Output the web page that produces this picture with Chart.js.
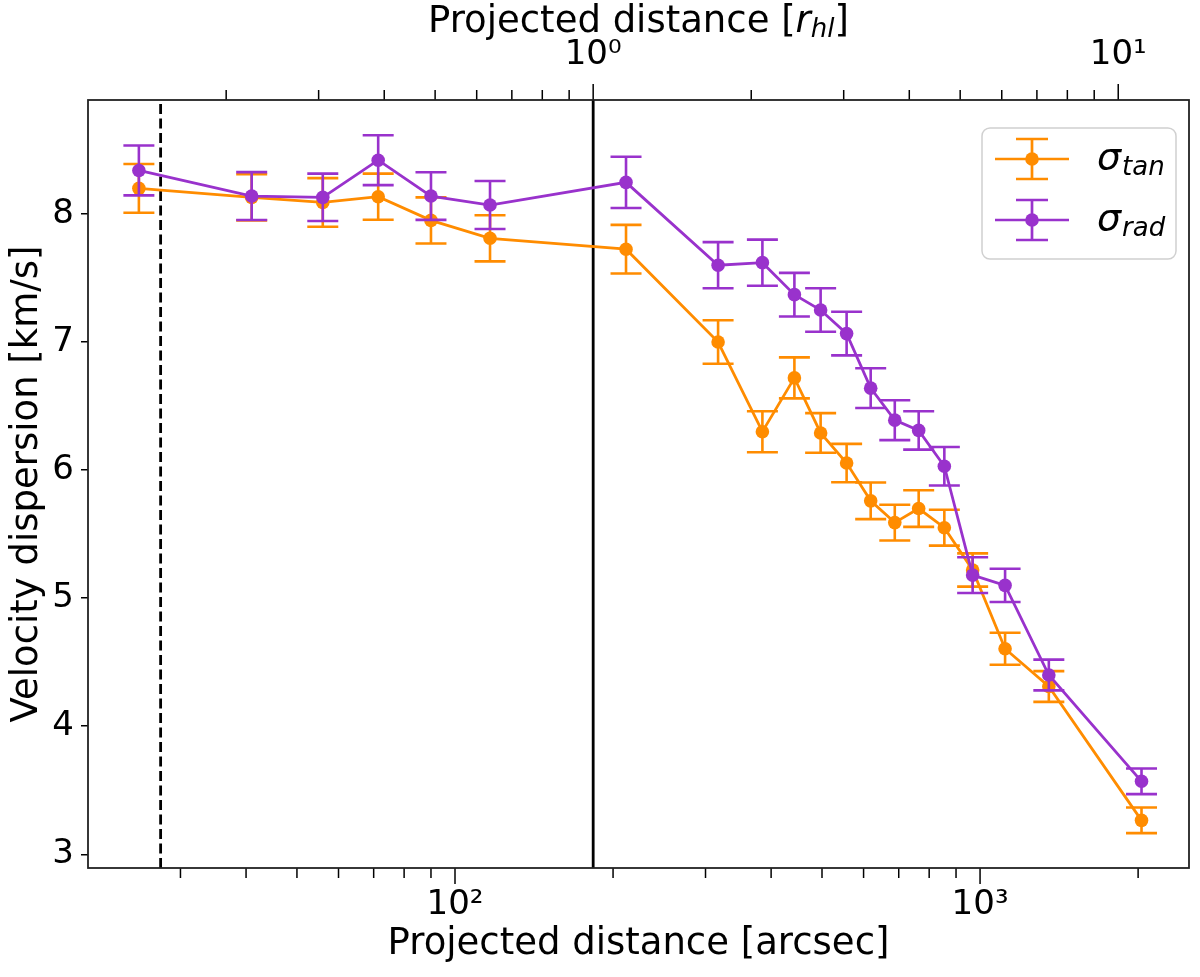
<!DOCTYPE html>
<html>
<head>
<meta charset="utf-8">
<script src="https://cdn.jsdelivr.net/npm/chart.js@4.4.0/dist/chart.umd.min.js"></script>
<style>
  html, body { margin: 0; padding: 0; background: #fff; }
  #wrap { width: 1200px; height: 977px; }
</style>
</head>
<body>
<div id="wrap"><canvas id="chart" width="1200" height="977"></canvas></div>
<script>
// projected distance of each bin [arcsec]
const distArcsec = [25.0, 41.0, 56.0, 71.4, 90.0, 116.6, 211.7, 317, 385, 443, 497, 557, 619, 688, 764, 855, 968, 1116, 1352, 2030];
// tangential / radial velocity dispersion [km/s] and 1-sigma errors
const sigmaTan    = [8.20, 8.13, 8.09, 8.135, 7.95, 7.81, 7.725, 7.00, 6.30, 6.72, 6.29, 6.055, 5.76, 5.59, 5.70, 5.55, 5.22, 4.605, 4.31, 3.265];
const sigmaTanErr = [0.19, 0.18, 0.19, 0.18, 0.18, 0.18, 0.19, 0.17, 0.16, 0.16, 0.155, 0.15, 0.143, 0.14, 0.143, 0.14, 0.13, 0.125, 0.12, 0.10];
const sigmaRad    = [8.34, 8.14, 8.13, 8.42, 8.14, 8.07, 8.247, 7.60, 7.62, 7.37, 7.25, 7.066, 6.64, 6.39, 6.31, 6.03, 5.18, 5.10, 4.40, 3.57];
const sigmaRadErr = [0.195, 0.187, 0.185, 0.195, 0.186, 0.187, 0.20, 0.18, 0.18, 0.17, 0.17, 0.17, 0.155, 0.156, 0.15, 0.15, 0.14, 0.13, 0.12, 0.10];

const halfLightArcsec = 183.3;   // r_hl, solid line + top axis unit
const innerCutArcsec = 27.5;     // dashed line
const xRange = [20, 2500];
const yRange = [2.893, 8.89];
const yTicks = [3, 4, 5, 6, 7, 8];
const xMajorTicks = [100, 1000];
const xTickLabels = ['10²', '10³'];
const xMinorTicks = [30, 40, 50, 60, 70, 80, 90, 200, 300, 400, 500, 600, 700, 800, 900, 2000];
const topMajorTicks = [1, 10];
const topTickLabels = ['10⁰', '10¹'];
const topMinorTicks = [0.2, 0.3, 0.4, 0.5, 0.6, 0.7, 0.8, 0.9, 2, 3, 4, 5, 6, 7, 8, 9];

const ORANGE = '#ff8c00', PURPLE = '#9932cc';
Chart.defaults.font.family = "'DejaVu Sans', sans-serif";
Chart.defaults.color = '#000';

const pts = ys => distArcsec.map((d, i) => ({x: d, y: ys[i]}));
const setTicks = (major, minor) => scale => {
  scale.ticks = major.map(v => ({value: v, major: true}))
    .concat(minor.map(v => ({value: v, major: false})))
    .sort((a, b) => a.value - b.value);
};

const errorBars = {
  id: 'errorBars',
  beforeDatasetDraw(chart, args) {
    const ds = chart.data.datasets[args.index];
    if (!ds.errors) return;
    const {ctx, scales: {x, y}} = chart;
    ctx.save();
    ctx.strokeStyle = ds.borderColor; ctx.lineWidth = 2.6;
    ds.data.forEach((p, i) => {
      const px = x.getPixelForValue(p.x);
      const lo = y.getPixelForValue(p.y - ds.errors[i]), hi = y.getPixelForValue(p.y + ds.errors[i]);
      ctx.beginPath();
      ctx.moveTo(px, lo); ctx.lineTo(px, hi);
      ctx.moveTo(px - 15.5, lo); ctx.lineTo(px + 15.5, lo);
      ctx.moveTo(px - 15.5, hi); ctx.lineTo(px + 15.5, hi);
      ctx.stroke();
    });
    ctx.restore();
  }
};

const refLines = {
  id: 'refLines',
  beforeDatasetsDraw(chart) {
    const {ctx, chartArea: a, scales: {x}} = chart;
    ctx.save();
    ctx.strokeStyle = '#000'; ctx.lineWidth = 2.8;
    ctx.setLineDash([10, 4.5]);
    let px = x.getPixelForValue(innerCutArcsec);
    ctx.beginPath(); ctx.moveTo(px, a.bottom); ctx.lineTo(px, a.top); ctx.stroke();
    ctx.setLineDash([]);
    px = x.getPixelForValue(halfLightArcsec);
    ctx.beginPath(); ctx.moveTo(px, a.bottom); ctx.lineTo(px, a.top); ctx.stroke();
    ctx.restore();
  }
};

const frame = {
  id: 'frame',
  afterDraw(chart) {
    const {ctx, chartArea: a, scales} = chart;
    ctx.save();
    ctx.strokeStyle = '#000'; ctx.lineWidth = 1.5;
    [['x', a.bottom, 1], ['x2', a.top, -1]].forEach(([id, edge, dir]) => {
      const s = scales[id];
      s.ticks.forEach(t => {
        const px = s.getPixelForValue(t.value);
        const len = t.major ? 16 : 10;
        ctx.beginPath(); ctx.moveTo(px, edge); ctx.lineTo(px, edge + dir * len); ctx.stroke();
      });
    });
    ctx.strokeStyle = '#222'; ctx.lineWidth = 1.8;
    ctx.strokeRect(a.left, a.top, a.right - a.left, a.bottom - a.top);

    // top axis title with subscript
    const y = 22;
    const parts = [
      {t: 'Projected distance [', f: "37px 'DejaVu Sans'", dy: 0},
      {t: 'r', f: "italic 37px 'DejaVu Sans'", dy: 0},
      {t: 'hl', f: "italic 26px 'DejaVu Sans'", dy: 8},
      {t: ']', f: "37px 'DejaVu Sans'", dy: 0}
    ];
    let w = 0;
    parts.forEach(p => { ctx.font = p.f; p.w = ctx.measureText(p.t).width; w += p.w; });
    let cx = (a.left + a.right) / 2 - w / 2;
    ctx.fillStyle = '#000'; ctx.textBaseline = 'middle'; ctx.textAlign = 'left';
    parts.forEach(p => { ctx.font = p.f; ctx.fillText(p.t, cx, y + p.dy); cx += p.w; });

    // legend
    const bx = 982, by = 128, bw = 194, bh = 131, r = 8;
    ctx.beginPath();
    ctx.roundRect(bx, by, bw, bh, r);
    ctx.fillStyle = 'rgba(255,255,255,0.8)'; ctx.fill();
    ctx.strokeStyle = '#d0d0d0'; ctx.lineWidth = 1.5; ctx.stroke();
    chart.data.datasets.forEach((ds, i) => {
      const ly = 159 + i * 61, hx = 1032;
      ctx.strokeStyle = ds.borderColor; ctx.fillStyle = ds.borderColor; ctx.lineWidth = 2.7;
      ctx.beginPath();
      ctx.moveTo(995, ly); ctx.lineTo(1069, ly);
      ctx.moveTo(hx, ly - 20); ctx.lineTo(hx, ly + 20);
      ctx.moveTo(hx - 16, ly - 20); ctx.lineTo(hx + 16, ly - 20);
      ctx.moveTo(hx - 16, ly + 20); ctx.lineTo(hx + 16, ly + 20);
      ctx.stroke();
      ctx.beginPath(); ctx.arc(hx, ly, 6.8, 0, Math.PI * 2); ctx.fill();
      const [sym, sub] = ds.label.split('_');
      ctx.fillStyle = '#000';
      ctx.font = "italic 38px 'DejaVu Sans'";
      ctx.fillText(sym, 1097, ly);
      const sw = ctx.measureText(sym).width;
      ctx.font = "italic 26px 'DejaVu Sans'";
      ctx.fillText(sub, 1097 + sw + 1, ly + 9);
    });
    ctx.restore();
  }
};

new Chart(document.getElementById('chart'), {
  type: 'line',
  data: {
    datasets: [
      {label: 'σ_tan', data: pts(sigmaTan), errors: sigmaTanErr, borderColor: ORANGE, backgroundColor: ORANGE,
       borderWidth: 2.8, pointRadius: 6.8, pointBorderWidth: 0, pointHoverRadius: 6.8, order: 2},
      {label: 'σ_rad', data: pts(sigmaRad), errors: sigmaRadErr, borderColor: PURPLE, backgroundColor: PURPLE,
       borderWidth: 2.8, pointRadius: 6.8, pointBorderWidth: 0, pointHoverRadius: 6.8, order: 1}
    ]
  },
  options: {
    responsive: false,
    devicePixelRatio: 1,
    animation: false,
    layout: {padding: {left: 0, right: 11, top: 0, bottom: 0}},
    plugins: {legend: {display: false}, tooltip: {enabled: false}},
    scales: {
      x: {
        type: 'logarithmic', position: 'bottom', min: xRange[0], max: xRange[1],
        afterBuildTicks: setTicks(xMajorTicks, xMinorTicks),
        afterFit: s => { s.height = 109; },
        grid: {display: false, drawTicks: false},
        border: {display: false},
        ticks: {autoSkip: false, maxRotation: 0, padding: 17, font: {size: 34},
                callback: v => { const k = xMajorTicks.indexOf(v); return k >= 0 ? xTickLabels[k] : ''; }},
        title: {display: true, text: 'Projected distance [arcsec]', font: {size: 37}, padding: {top: 0, bottom: 10}}
      },
      x2: {
        type: 'logarithmic', position: 'top',
        min: xRange[0] / halfLightArcsec, max: xRange[1] / halfLightArcsec,
        afterBuildTicks: setTicks(topMajorTicks, topMinorTicks),
        afterFit: s => { s.height = 100; },
        grid: {display: false, drawTicks: false},
        border: {display: false},
        ticks: {autoSkip: false, maxRotation: 0, padding: 24, font: {size: 34},
                callback: v => { const k = topMajorTicks.indexOf(v); return k >= 0 ? topTickLabels[k] : ''; }}
      },
      y: {
        type: 'linear', min: yRange[0], max: yRange[1],
        afterBuildTicks: s => { s.ticks = yTicks.map(v => ({value: v})); },
        afterFit: s => { s.width = 88; },
        grid: {drawOnChartArea: false, drawTicks: true, tickLength: 7, color: '#000', lineWidth: 1.5},
        border: {display: false},
        ticks: {padding: 7, font: {size: 34}},
        title: {display: true, text: 'Velocity dispersion [km/s]', font: {size: 37}, padding: {top: 5, bottom: 0}}
      }
    }
  },
  plugins: [errorBars, refLines, frame]
});
</script>
</body>
</html>
